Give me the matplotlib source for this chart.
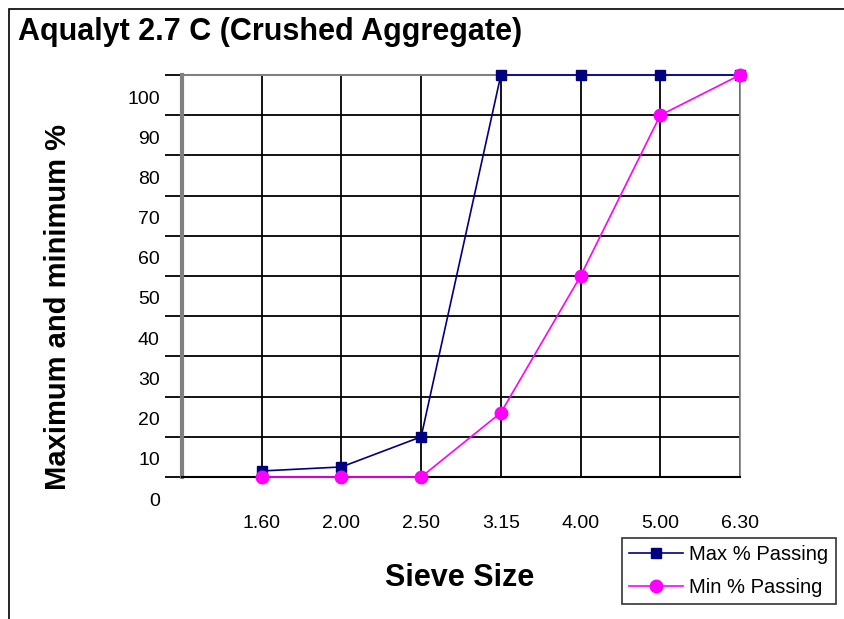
import numpy as np
import matplotlib.pyplot as plt
import matplotlib.transforms as mtransforms
from matplotlib.patches import Rectangle

sieve_sizes = ['1.60', '2.00', '2.50', '3.15', '4.00', '5.00', '6.30']
max_passing = [1.5, 2.5, 10, 100, 100, 100, 100]
min_passing = [0, 0, 0, 16, 50, 90, 100]
y_ticks = list(range(0, 101, 10))

plt.rcParams['font.family'] = ['Liberation Sans', 'DejaVu Sans']

fig = plt.figure(figsize=(8.44, 6.19), dpi=100)
ax = fig.add_axes([182/844, 1 - 477/619, (740 - 182)/844, (477 - 75)/619])

x = np.arange(1, len(sieve_sizes) + 1)

# grid
for xi in x:
    ax.axvline(xi, color='black', lw=1.3, zorder=1)
for yv in y_ticks[1:]:
    ax.axhline(yv, color='black', lw=1.3, zorder=1)

ax.plot(x, max_passing, color='#000080', lw=1.2, marker='s', ms=7.5,
        mfc='#000080', mec='#000080', label='Max % Passing', zorder=3,
        clip_on=False)
ax.plot(x, min_passing, color='#FF00FF', lw=1.2, marker='o', ms=9,
        mfc='#FF00FF', mec='#FF00FF', label='Min % Passing', zorder=4,
        clip_on=False)

ax.set_xlim(0, len(sieve_sizes))
ax.set_ylim(0, 100)
ax.set_xticks(x)
ax.set_xticklabels(sieve_sizes, fontsize=14)
ax.tick_params(axis='x', length=0, pad=27)
ax.set_yticks(y_ticks)
ax.set_yticklabels([str(v) for v in y_ticks], fontsize=14)
ax.tick_params(axis='y', length=12, width=1.3, pad=4)
off = mtransforms.ScaledTranslation(0, -22/100, fig.dpi_scale_trans)
for lab in ax.get_yticklabels():
    lab.set_transform(lab.get_transform() + off)

ax.spines['left'].set_color('#808080')
ax.spines['left'].set_linewidth(3)
ax.spines['top'].set_color('#808080')
ax.spines['top'].set_linewidth(1.5)
ax.spines['right'].set_color('#808080')
ax.spines['right'].set_linewidth(1.2)
ax.spines['bottom'].set_color('black')
ax.spines['bottom'].set_linewidth(1.5)

ax.set_xlabel('Sieve Size', fontsize=22, fontweight='bold', va='center')
ax.xaxis.set_label_coords((460 - 182)/558, -(578 - 477)/402)
ax.set_ylabel('Maximum and minimum %', fontsize=21, fontweight='bold', va='center')
ax.yaxis.set_label_coords(-(182 - 58)/558, (477 - 307)/402)

fig.text(18/844, 1 - 32/619, 'Aqualyt 2.7 C (Crushed Aggregate)', fontsize=22,
         fontweight='bold', va='center', ha='left')

# outer frame
fig.patches.append(Rectangle((9/844, -0.01), 1.0, 1 - 9/619 + 0.01,
                             transform=fig.transFigure, fill=False,
                             edgecolor='black', lw=1.2))

leg = ax.legend(loc='upper left', bbox_to_anchor=((622 - 182)/558, -(538 - 477)/402),
                frameon=True, fancybox=False, edgecolor='black', fontsize=14.5,
                borderpad=0.35, borderaxespad=0, handlelength=2.7,
                handletextpad=0.3, labelspacing=0.7)
leg.get_frame().set_linewidth(1.2)

fig.savefig('out.png', dpi=100)
